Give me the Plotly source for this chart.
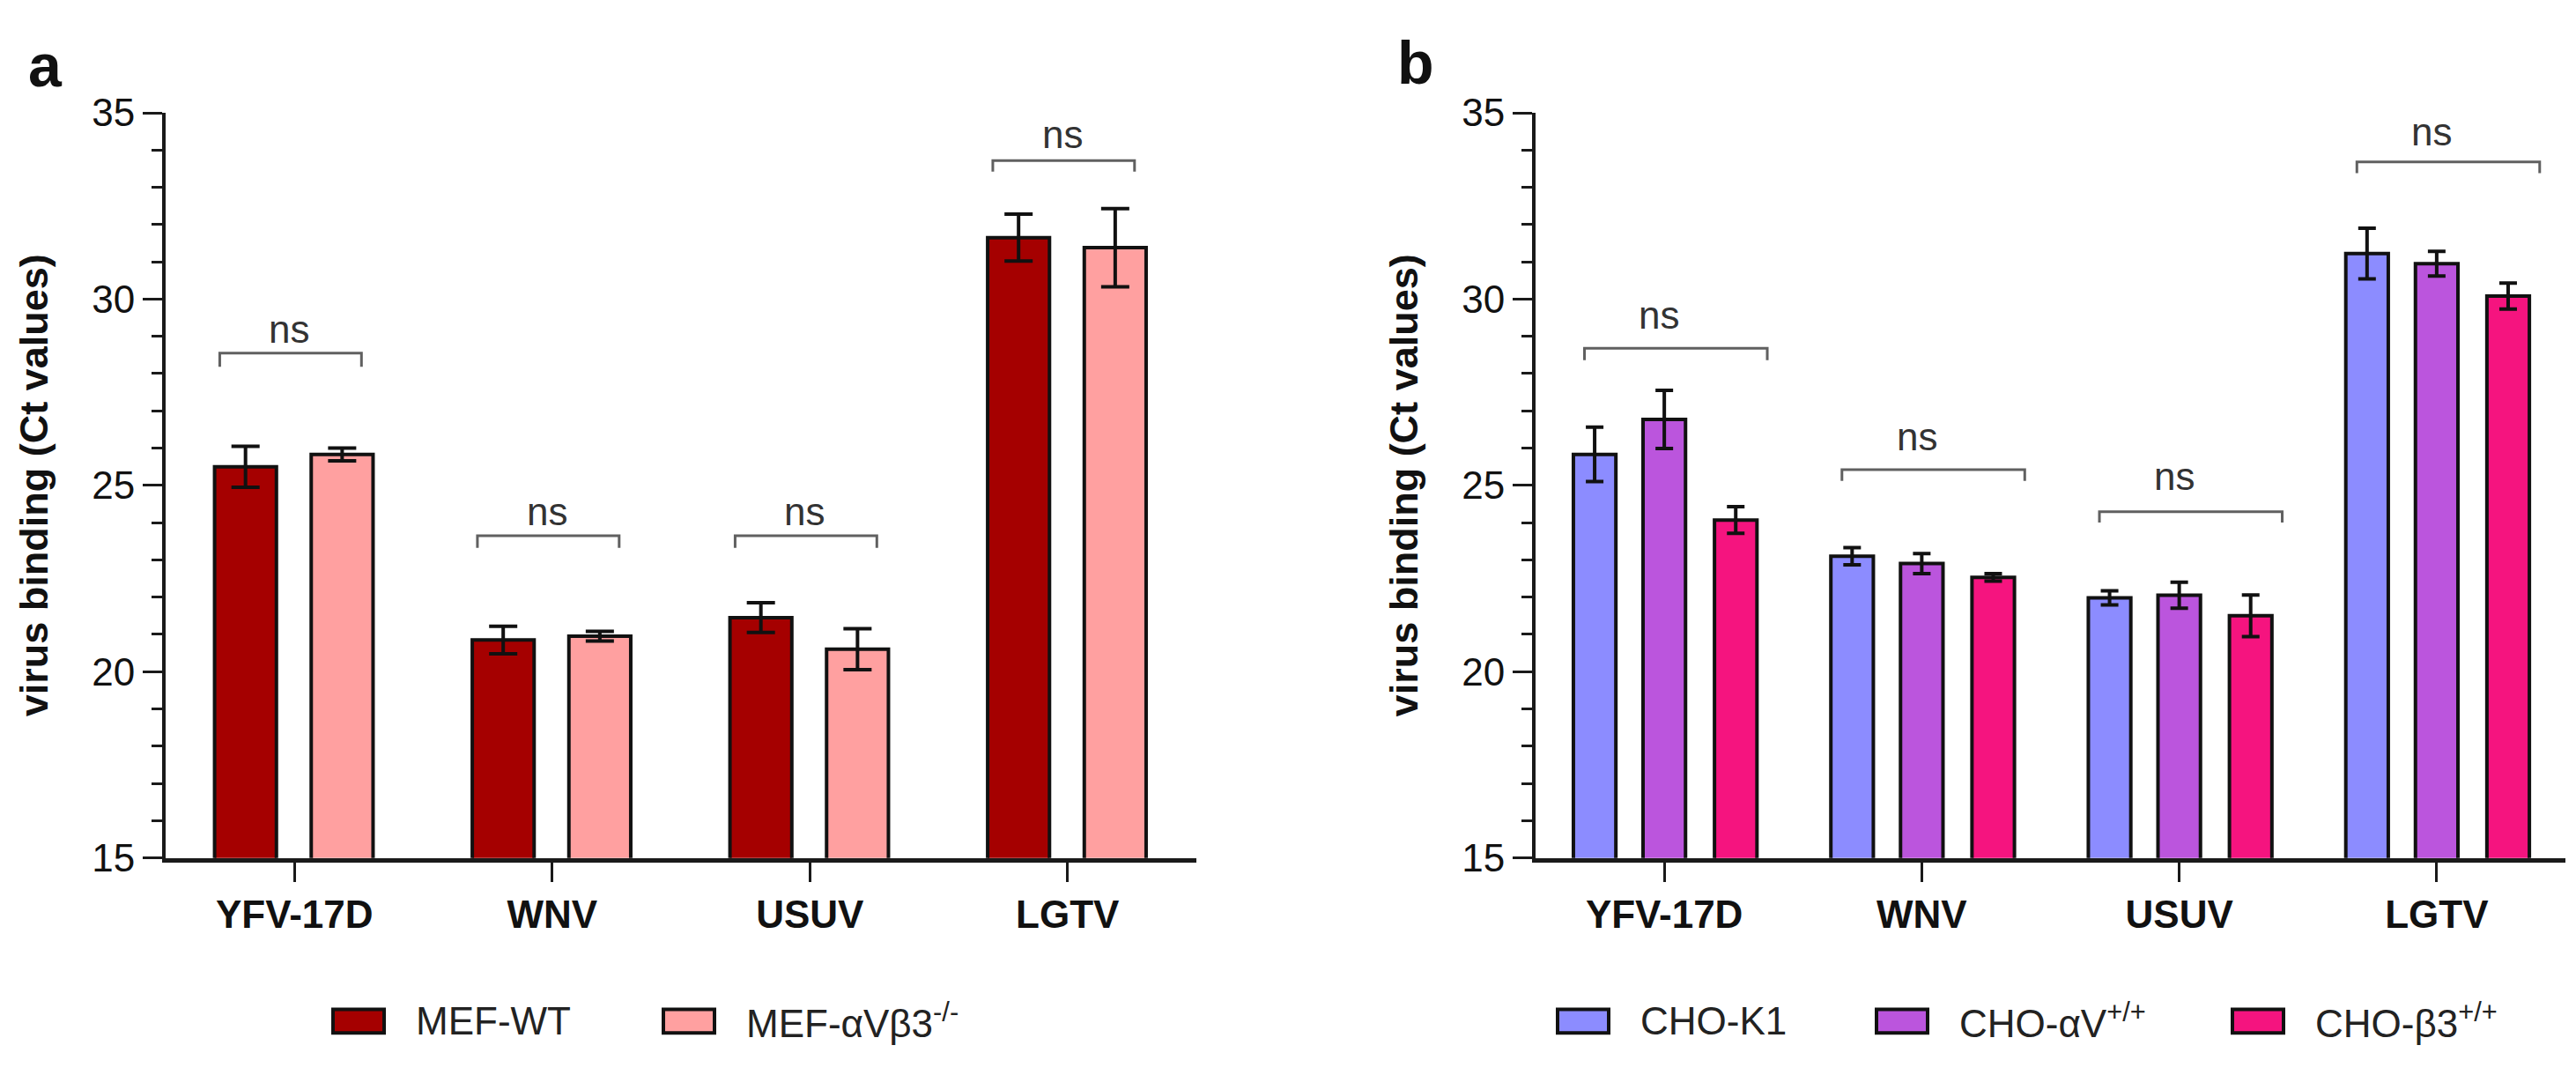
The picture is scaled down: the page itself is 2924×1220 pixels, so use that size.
import plotly.graph_objects as go

# ---------------- data ----------------
categories = ["YFV-17D", "WNV", "USUV", "LGTV"]

# panel a
mef_wt = [25.5, 20.85, 21.45, 31.65]
mef_wt_err = [0.55, 0.37, 0.40, 0.63]
mef_ko = [25.83, 20.95, 20.6, 31.38]
mef_ko_err = [0.17, 0.13, 0.55, 1.05]

# panel b
cho_k1 = [25.83, 23.1, 21.98, 31.22]
cho_k1_err = [0.73, 0.23, 0.19, 0.68]
cho_av = [26.77, 22.9, 22.05, 30.95]
cho_av_err = [0.78, 0.27, 0.35, 0.33]
cho_b3 = [24.07, 22.53, 21.5, 30.08]
cho_b3_err = [0.36, 0.10, 0.56, 0.35]

series_a = ["MEF-WT", "MEF-αVβ3<sup>-/-</sup>"]
series_b = ["CHO-K1", "CHO-αV<sup>+/+</sup>", "CHO-β3<sup>+/+</sup>"]

# significance brackets (bracket level, leg end, label level)
sig_a_top = [28.55, 23.65, 23.65, 33.72]
sig_a_leg = [28.18, 23.32, 23.32, 33.42]
sig_a_txt = [29.2, 24.3, 24.3, 34.42]
sig_b_top = [28.68, 25.42, 24.29, 33.68]
sig_b_leg = [28.36, 25.12, 24.0, 33.38]
sig_b_txt = [29.58, 26.32, 25.24, 34.5]
sig_labels = ["ns", "ns", "ns", "ns"]

y_ticks = [15, 20, 25, 30, 35]

# ---------------- style ----------------
FONT = "Arial, Liberation Sans, sans-serif"
W, H = 2924, 1220
C_WT, C_KO = "#a50000", "#ffa0a0"
C_K1, C_AV, C_B3 = "#8c8cff", "#bb55dd", "#f5147f"

fig = go.Figure()

def add_bar(name, vals, errs, color, xa, ya, offset, width, capw):
    fig.add_trace(go.Bar(
        name=name, x=categories, y=vals,
        xaxis=xa, yaxis=ya, showlegend=False,
        offset=offset, width=width,
        marker=dict(color=color, line=dict(color="#111111", width=4)),
        error_y=dict(type="data", array=errs, visible=True,
                     color="#111111", thickness=4, width=capw),
    ))

add_bar(series_a[0], mef_wt, mef_wt_err, C_WT, "x", "y", -0.31, 0.24, 16)
add_bar(series_a[1], mef_ko, mef_ko_err, C_KO, "x", "y", 0.065, 0.24, 16)
add_bar(series_b[0], cho_k1, cho_k1_err, C_K1, "x2", "y2", -0.353, 0.165, 10)
add_bar(series_b[1], cho_av, cho_av_err, C_AV, "x2", "y2", -0.0825, 0.165, 10)
add_bar(series_b[2], cho_b3, cho_b3_err, C_B3, "x2", "y2", 0.195, 0.165, 10)

# brackets + ns labels
def add_brackets(xref, yref, tops, legs, txts, left, right):
    for i, (t, l, ty, lab) in enumerate(zip(tops, legs, txts, sig_labels)):
        fig.add_shape(type="path",
                      path=f"M {i+left},{l} L {i+left},{t} L {i+right},{t} L {i+right},{l}",
                      xref=xref, yref=yref,
                      line=dict(color="#606060", width=3))
        fig.add_annotation(x=i - 0.02, y=ty, xref=xref, yref=yref, text=lab,
                           showarrow=False, yanchor="middle",
                           font=dict(family=FONT, size=44, color="#333333"))

add_brackets("x", "y", sig_a_top, sig_a_leg, sig_a_txt, -0.29, 0.26)
add_brackets("x2", "y2", sig_b_top, sig_b_leg, sig_b_txt, -0.31, 0.40)

# legends (swatch + label) below each panel
def add_legend(labels, colors, swatch_x0):
    y0, y1 = 1 - 1187 / H, 1 - 1159 / H
    for lab, col, sx in zip(labels, colors, swatch_x0):
        fig.add_shape(type="rect", xref="paper", yref="paper",
                      x0=sx / W, x1=(sx + 58) / W, y0=y0, y1=y1,
                      fillcolor=col, line=dict(color="#111111", width=4))
        fig.add_annotation(x=(sx + 92) / W, y=1 - 1173 / H, xref="paper", yref="paper",
                           text=lab, showarrow=False, xanchor="left", yanchor="middle",
                           font=dict(family=FONT, size=44, color="#222222"))

add_legend(series_a, [C_WT, C_KO], [370, 745])
add_legend(series_b, [C_K1, C_AV, C_B3], [1760, 2122, 2526])

# panel letters
fig.add_annotation(x=22 / W, y=1 - 43 / H, xref="paper", yref="paper", text="<b>a</b>",
                   showarrow=False, xanchor="left", yanchor="middle",
                   font=dict(family=FONT, size=68, color="#111111"))
fig.add_annotation(x=1576 / W, y=1 - 40 / H, xref="paper", yref="paper", text="<b>b</b>",
                   showarrow=False, xanchor="left", yanchor="middle",
                   font=dict(family=FONT, size=68, color="#111111"))

ydom = [1 - 980 / H, 1 - 99 / H]
xaxis_common = dict(
    type="category", range=[-0.5, 3.5], showline=True, linewidth=5, linecolor="#1a1a1a",
    ticks="outside", ticklen=22, tickwidth=3, tickcolor="#1a1a1a",
    tickfont=dict(family=FONT, size=44, color="#111111", weight="bold"),
    showgrid=False, zeroline=False, fixedrange=True,
)
yaxis_common = dict(
    range=[15, 35], tickvals=y_ticks, showline=True, linewidth=4, linecolor="#1a1a1a",
    ticks="outside", ticklen=22, tickwidth=3, tickcolor="#1a1a1a",
    minor=dict(dtick=1, ticks="outside", ticklen=12, tickwidth=3, tickcolor="#1a1a1a"),
    tickfont=dict(family=FONT, size=44, color="#111111"),
    title=dict(text="<b>virus binding (Ct values)</b>", standoff=36,
               font=dict(family=FONT, size=45, color="#111111")),
    showgrid=False, zeroline=False, fixedrange=True,
)

fig.update_layout(
    width=W, height=H,
    margin=dict(l=0, r=0, t=0, b=0),
    paper_bgcolor="white", plot_bgcolor="white",
    barmode="overlay",
    showlegend=False,
    font=dict(family=FONT, color="#111111"),
    xaxis=dict(domain=[180 / W, 1350 / W], anchor="y", **xaxis_common),
    yaxis=dict(domain=ydom, anchor="x", **yaxis_common),
    xaxis2=dict(domain=[1735 / W, 2904 / W], anchor="y2", **xaxis_common),
    yaxis2=dict(domain=ydom, anchor="x2", **yaxis_common),
)

fig.write_html("out.html")
